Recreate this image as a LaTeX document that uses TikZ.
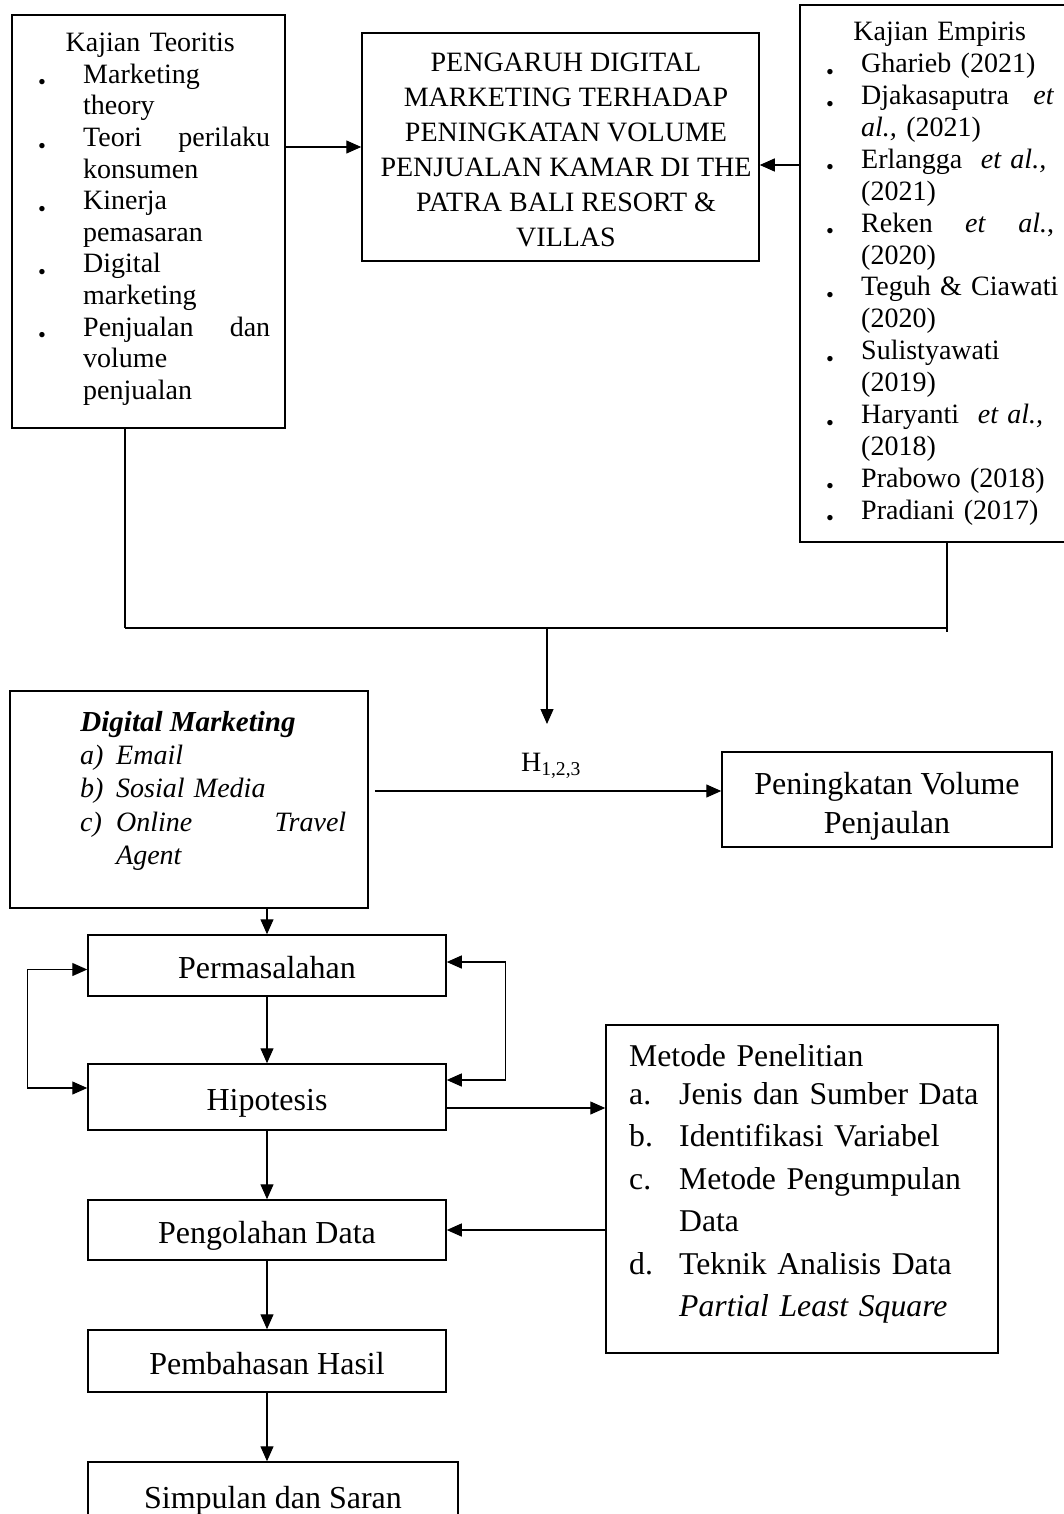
\documentclass[tikz,border=0pt]{standalone}
\usepackage{fontspec}
\setmainfont{Liberation Serif}
\usepackage{graphicx}
\usepackage{tikz}
\usetikzlibrary{arrows.meta}
\definecolor{ink}{HTML}{000000}
\tikzset{
  box/.style={draw=ink, line width=1.5pt, rectangle, inner sep=0pt},
  proc/.style={box, minimum width=358pt, text=ink, font=\fontsize{32}{39}\selectfont, text height=26pt, text depth=0pt},
  arr/.style={draw=ink, line width=1.3pt, -{Triangle[length=15pt,width=13pt]}},
  arrs/.style={draw=ink, line width=1.3pt, {Triangle[length=15pt,width=13pt]}-{Triangle[length=15pt,width=13pt]}},
  link/.style={draw=ink, line width=1.3pt},
  txt/.style={text=ink, font=\fontsize{28}{31.6}\selectfont, inner sep=0pt},
  txtb/.style={text=ink, font=\fontsize{31.7}{42.5}\selectfont, inner sep=0pt},
}
\newcommand{\bul}{\raisebox{-6.5pt}{\scalebox{0.8}{\textbullet}}}
\newcommand{\itm}[3]{\hangindent=#1\hangafter=1\noindent\makebox[#1][l]{#2}#3\par}

\begin{document}
\begin{tikzpicture}[x=1pt,y=-1pt]
  \useasboundingbox (0,0) rectangle (1064,1514);
  % top row
  \node[box, minimum width=273pt, minimum height=413pt] (kt) at (148.5,221.5) {};
  \node[txt, anchor=north west, text width=232pt, align=left] (kttext) at (38,33) {%
    {\centering\hspace*{-8pt}Kajian Teoritis\par}
    \itm{45pt}{\bul}{Marketing\newline theory}
    \itm{45pt}{\bul}{Teori\hfill perilaku\newline konsumen}
    \itm{45pt}{\bul}{Kinerja\newline pemasaran}
    \itm{45pt}{\bul}{Digital\newline marketing}
    \itm{45pt}{\bul}{Penjualan\hfill dan\newline volume\newline penjualan}};
  \node[box, minimum width=397pt, minimum height=228pt] (judul) at (560.5,147) {};
  \node[txt, align=center, font=\fontsize{28}{35}\selectfont] (judultext) at (566,150)
    {PENGARUH DIGITAL\\MARKETING TERHADAP\\PENINGKATAN VOLUME\\PENJUALAN KAMAR DI THE\\PATRA BALI RESORT \&\\VILLAS};
  \node[box, minimum width=300pt, minimum height=537pt] (ke) at (950,273.5) {};
  \node[txt, anchor=north west, text width=232pt, align=left,
        font=\fontsize{28}{31.9}\selectfont] (ketext) at (826,22) {%
    {\centering\hspace*{-5pt}Kajian Empiris\par}
    \itm{35pt}{\bul}{Gharieb (2021)}
    \itm{35pt}{\bul}{Djakasaputra\hfill \textit{et}\hspace*{4pt}\newline \textit{al.,} (2021)}
    \itm{35pt}{\bul}{Erlangga \ \textit{et al.,}\newline (2021)}
    \itm{35pt}{\bul}{Reken\hfill \textit{et}\hfill \textit{al.},\hspace*{4pt}\newline (2020)}
    \itm{35pt}{\bul}{\mbox{Teguh \& Ciawati}\newline (2020)}
    \itm{35pt}{\bul}{Sulistyawati\newline (2019)}
    \itm{35pt}{\bul}{Haryanti \ \textit{et al.,}\newline (2018)}
    \itm{35pt}{\bul}{Prabowo (2018)}
    \itm{35pt}{\bul}{Pradiani (2017)}};
  \draw[arr] (kt.east |- judul.west) -- (judul.west);
  \draw[arr] (ke.west |- 0,165) -- ([yshift=-18pt]judul.east);
  % joining lines
  \coordinate (ja) at (125,628);
  \coordinate (jb) at (947,628);
  \coordinate (jm) at (547,628);
  \coordinate (hd) at (547,724);
  \draw[link] (kt.south -| ja) -- (ja);
  \draw[link, line width=2pt] (ja) -- (jb);
  \draw[link] (ke.south -| jb) -- ([yshift=-4pt]jb);
  \draw[arr] (jm) -- (hd);
  % middle row
  \node[box, minimum width=358pt, minimum height=217pt] (dm) at (189,799.5) {};
  \node[txt, anchor=base, font={\fontsize{29}{33}\selectfont\bfseries\itshape}] (dmhead) at (188,731) {Digital Marketing};
  \node[txt, anchor=north west, text width=266pt, align=left,
        font={\fontsize{28}{33.5}\selectfont\itshape}] (dmlist) at (80,744.5) {%
    \itm{36pt}{a)}{Email}
    \itm{36pt}{b)}{Sosial Media}
    \itm{36pt}{c)}{Online\hfill Travel\newline Agent}};
  \node[txt, anchor=base] (hlab) at (551,771) {H\textsubscript{1,2,3}};
  \node[box, minimum width=330pt, minimum height=95pt] (pv) at (887,799.5) {};
  \node[txt, align=center, font=\fontsize{32}{39}\selectfont] (pvtext) at (887,806) {Peningkatan Volume\\Penjaulan};
  \draw[arr] ([xshift=6pt]dm.east |- 0,791) -- (pv.west |- 0,791);
  % bottom flow
  \node[proc, minimum height=61pt] (pm) at (267,965.5) {Permasalahan};
  \node[proc, minimum height=66pt] (hp) at (267,1097) {Hipotesis};
  \node[proc, minimum height=60pt] (pd) at (267,1230) {Pengolahan Data};
  \node[proc, minimum height=62pt] (ph) at (267,1361) {Pembahasan Hasil};
  \node[proc, minimum width=370pt, minimum height=66pt] (ss) at (273,1495) {Simpulan dan Saran};
  \node[box, minimum width=392pt, minimum height=328pt] (mp) at (802,1189) {};
  \node[txtb, anchor=north west, text width=362pt, align=left] (mptext) at (629,1044.6) {%
    Metode Penelitian\par\vspace{-5pt}
    \itm{50pt}{a.}{Jenis dan Sumber Data}
    \itm{50pt}{b.}{Identifikasi Variabel}
    \itm{50pt}{c.}{Metode Pengumpulan\newline Data}
    \itm{50pt}{d.}{Teknik Analisis Data\newline \textit{Partial Least Square}}};
  \draw[arr] (dm.south -| pm.north) -- (pm.north);
  \draw[arr] (pm) -- (hp);
  \draw[arr] (hp) -- (pd);
  \draw[arr] (pd) -- (ph);
  \draw[arr] (ph.south) -- (ph.south |- ss.north);
  \draw[arrs] ([yshift=-4pt]pm.west) -- ++(-60,0) |- ([yshift=9pt]hp.west);
  \draw[arrs] ([yshift=3.5pt]pm.east) -- ++(59,0) |- ([yshift=17pt]hp.east);
  \draw[arr] ([yshift=-11pt]hp.east) -- ([yshift=-11pt]hp.east -| mp.west);
  \draw[arr] (mp.west |- pd.east) -- (pd.east);
\end{tikzpicture}
\end{document}
